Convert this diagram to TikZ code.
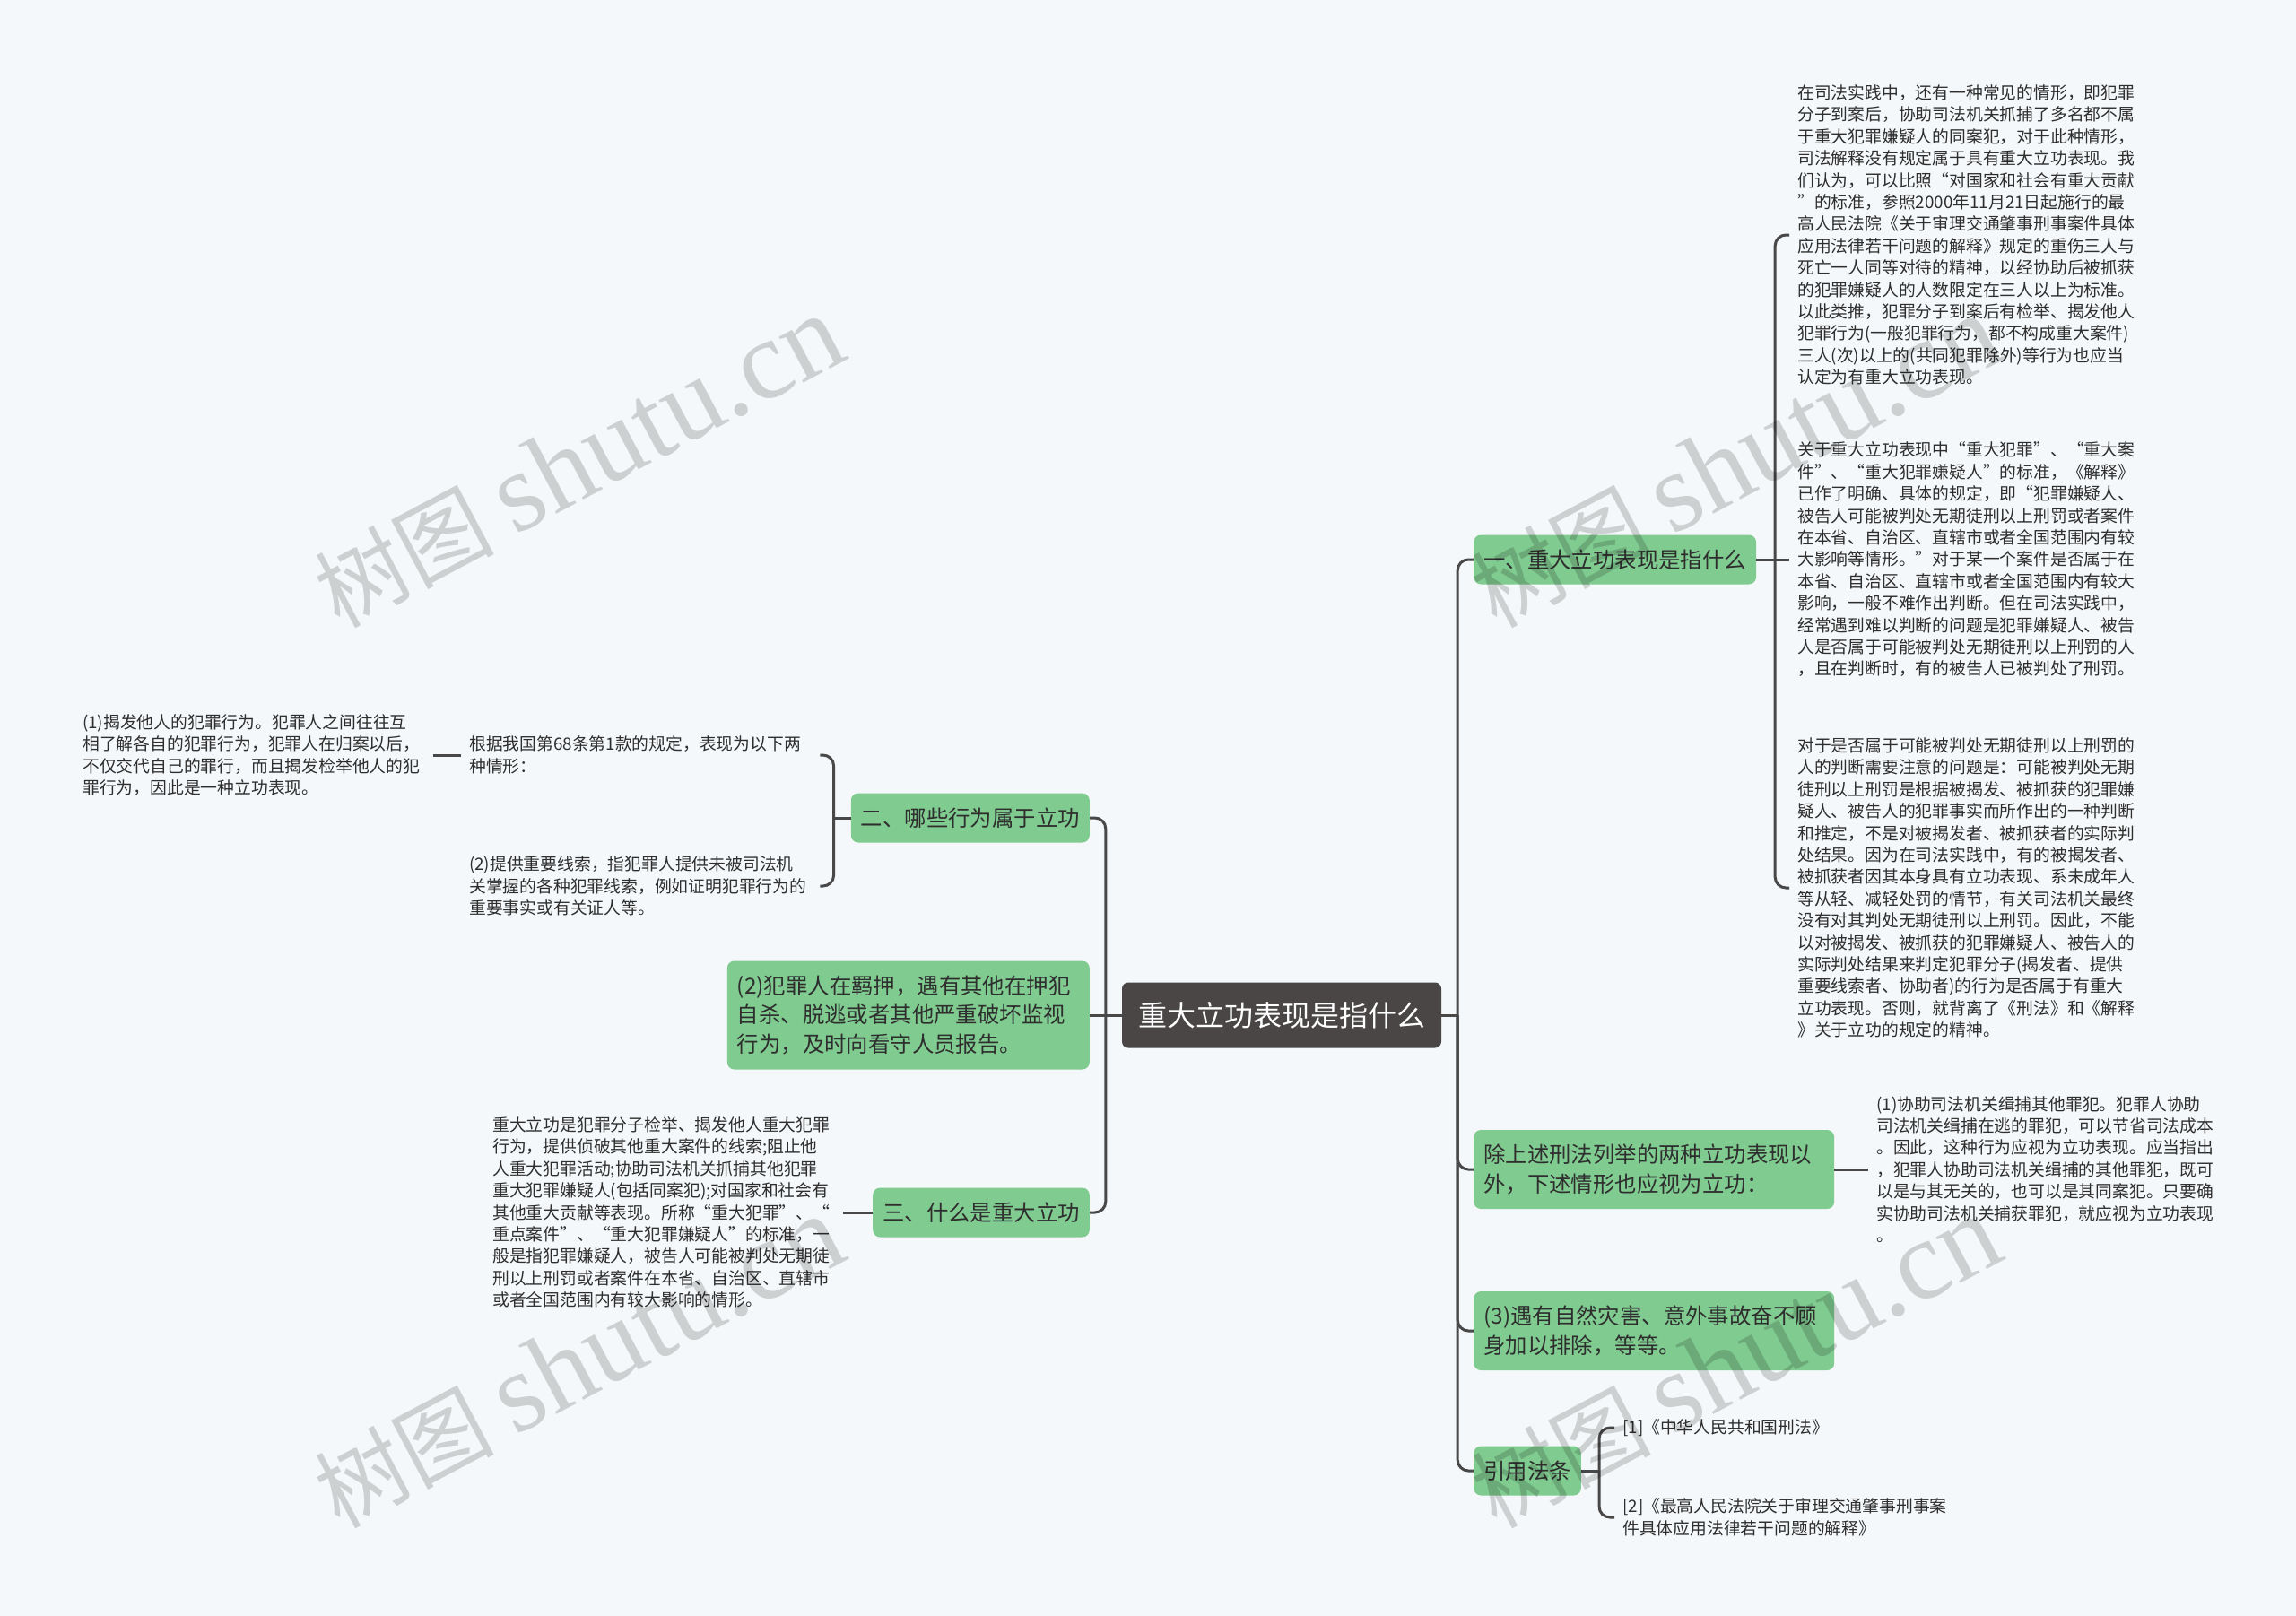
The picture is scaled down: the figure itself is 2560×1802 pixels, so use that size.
\documentclass[tikz,border=0pt]{standalone}
\usepackage{fontspec}
\setmainfont{Noto Sans CJK SC}
\newfontfamily\wmlatin{Liberation Serif}
\definecolor{PageBg}{HTML}{F5F8FA}
\definecolor{RootGray}{HTML}{4A4646}
\definecolor{TopicGreen}{HTML}{80CB90}
\definecolor{LinkGray}{HTML}{484848}
\definecolor{InkGray}{HTML}{2E2E2E}

\begin{document}
\begin{tikzpicture}[x=1pt,y=-1pt,
  link/.style={draw=LinkGray,line width=3pt,rounded corners=12pt},
  root/.style={fill=RootGray,text=white,rounded corners=7pt,font=\fontsize{32}{38}\selectfont,
    minimum width=356pt,minimum height=73pt,inner sep=0pt},
  topic/.style={fill=TopicGreen,text=InkGray,rounded corners=8pt,font=\fontsize{24.4}{32.4}\selectfont,
    align=left,inner xsep=11pt,inner ysep=0pt,minimum height=55pt},
  leaf/.style={text=InkGray,font=\fontsize{18.8}{24.4}\selectfont,align=left,text width=382pt,
    inner xsep=9pt,inner ysep=3pt},
  wmark/.style={text=black,opacity=.16,rotate=28,font=\fontsize{100}{100}\selectfont}]
  \useasboundingbox (0,0) rectangle (2560,1802);
  \fill[PageBg] (0,0) rectangle (2560,1802);

  \node[root] (root) at (1429,1132) {重大立功表现是指什么};

  % right side
  \node[topic,anchor=west] (one) at (1643,624) {一、重大立功表现是指什么};
  \node[topic,anchor=west,text width=380pt,minimum height=88pt] (other) at (1643,1304)
    {除上述刑法列举的两种立功表现以\\外，下述情形也应视为立功：};
  \node[topic,anchor=west,text width=380pt,minimum height=88pt] (natural) at (1643,1484)
    {(3)遇有自然灾害、意外事故奋不顾\\身加以排除，等等。};
  \node[topic,anchor=west] (cite) at (1643,1640) {引用法条};

  \node[leaf,anchor=west] (p1) at (1995,262) {在司法实践中，还有一种常见的情形，即犯罪\\
分子到案后，协助司法机关抓捕了多名都不属\\
于重大犯罪嫌疑人的同案犯，对于此种情形，\\
司法解释没有规定属于具有重大立功表现。我\\
们认为，可以比照“对国家和社会有重大贡献\\
”的标准，参照2000年11月21日起施行的最\\
高人民法院《关于审理交通肇事刑事案件具体\\
应用法律若干问题的解释》规定的重伤三人与\\
死亡一人同等对待的精神，以经协助后被抓获\\
的犯罪嫌疑人的人数限定在三人以上为标准。\\
以此类推，犯罪分子到案后有检举、揭发他人\\
犯罪行为(一般犯罪行为，都不构成重大案件)\\
三人(次)以上的(共同犯罪除外)等行为也应当\\
认定为有重大立功表现。};
  \node[leaf,anchor=west] (p2) at (1995,624) {关于重大立功表现中“重大犯罪”、“重大案\\
件”、“重大犯罪嫌疑人”的标准，《解释》\\
已作了明确、具体的规定，即“犯罪嫌疑人、\\
被告人可能被判处无期徒刑以上刑罚或者案件\\
在本省、自治区、直辖市或者全国范围内有较\\
大影响等情形。”对于某一个案件是否属于在\\
本省、自治区、直辖市或者全国范围内有较大\\
影响，一般不难作出判断。但在司法实践中，\\
经常遇到难以判断的问题是犯罪嫌疑人、被告\\
人是否属于可能被判处无期徒刑以上刑罚的人\\
，且在判断时，有的被告人已被判处了刑罚。};
  \node[leaf,anchor=west] (p3) at (1995,990) {对于是否属于可能被判处无期徒刑以上刑罚的\\
人的判断需要注意的问题是：可能被判处无期\\
徒刑以上刑罚是根据被揭发、被抓获的犯罪嫌\\
疑人、被告人的犯罪事实而所作出的一种判断\\
和推定，不是对被揭发者、被抓获者的实际判\\
处结果。因为在司法实践中，有的被揭发者、\\
被抓获者因其本身具有立功表现、系未成年人\\
等从轻、减轻处罚的情节，有关司法机关最终\\
没有对其判处无期徒刑以上刑罚。因此，不能\\
以对被揭发、被抓获的犯罪嫌疑人、被告人的\\
实际判处结果来判定犯罪分子(揭发者、提供\\
重要线索者、协助者)的行为是否属于有重大\\
立功表现。否则，就背离了《刑法》和《解释\\
》关于立功的规定的精神。};
  \node[leaf,anchor=west] (assist) at (2083,1304) {(1)协助司法机关缉捕其他罪犯。犯罪人协助\\
司法机关缉捕在逃的罪犯，可以节省司法成本\\
。因此，这种行为应视为立功表现。应当指出\\
，犯罪人协助司法机关缉捕的其他罪犯，既可\\
以是与其无关的，也可以是其同案犯。只要确\\
实协助司法机关捕获罪犯，就应视为立功表现\\
。};
  \node[leaf,anchor=west] (law1) at (1800,1592) {[1]《中华人民共和国刑法》};
  \node[leaf,anchor=west] (law2) at (1800,1692) {[2]《最高人民法院关于审理交通肇事刑事案\\
件具体应用法律若干问题的解释》};

  % left side
  \node[topic,anchor=east] (two) at (1215,912) {二、哪些行为属于立功};
  \node[topic,anchor=east,text width=382pt,minimum height=121pt] (detain) at (1215,1132)
    {(2)犯罪人在羁押，遇有其他在押犯\\自杀、脱逃或者其他严重破坏监视\\行为，及时向看守人员报告。};
  \node[topic,anchor=east] (three) at (1215,1352) {三、什么是重大立功};

  \node[leaf,anchor=west] (basis) at (514,842) {根据我国第68条第1款的规定，表现为以下两\\
种情形：};
  \node[leaf,anchor=west] (clue) at (514,988) {(2)提供重要线索，指犯罪人提供未被司法机\\
关掌握的各种犯罪线索，例如证明犯罪行为的\\
重要事实或有关证人等。};
  \node[leaf,anchor=west] (reveal) at (83,842) {(1)揭发他人的犯罪行为。犯罪人之间往往互\\
相了解各自的犯罪行为，犯罪人在归案以后，\\
不仅交代自己的罪行，而且揭发检举他人的犯\\
罪行为，因此是一种立功表现。};
  \node[leaf,anchor=west] (define) at (540,1352) {重大立功是犯罪分子检举、揭发他人重大犯罪\\
行为，提供侦破其他重大案件的线索;阻止他\\
人重大犯罪活动;协助司法机关抓捕其他犯罪\\
重大犯罪嫌疑人(包括同案犯);对国家和社会有\\
其他重大贡献等表现。所称“重大犯罪”、“\\
重点案件”、“重大犯罪嫌疑人”的标准，一\\
般是指犯罪嫌疑人，被告人可能被判处无期徒\\
刑以上刑罚或者案件在本省、自治区、直辖市\\
或者全国范围内有较大影响的情形。};

  % connectors
  \draw[link] (root.east) -- ++(18,0) coordinate (rj);
  \foreach \kid in {one,other,natural,cite} \draw[link] (rj) |- (\kid.west);
  \draw[link] (root.west) -- ++(-18,0) coordinate (lj);
  \foreach \kid in {two,three} \draw[link] (lj) |- (\kid.east);
  \draw[link] (lj) -- (detain.east);
  \draw[link] (one.east) -- ++(21,0) coordinate (oj);
  \foreach \kid in {p1,p3} \draw[link] (oj) |- (\kid.west);
  \draw[link] (oj) -- (p2.west);
  \draw[link] (other.east) -- (assist.west);
  \draw[link] (cite.east) -- ++(20,0) coordinate (cj);
  \foreach \kid in {law1,law2} \draw[link] (cj) |- (\kid.west);
  \draw[link] (two.west) -- ++(-19,0) coordinate (tj);
  \foreach \kid in {basis,clue} \draw[link] (tj) |- (\kid.east);
  \draw[link] (basis.west) -- (reveal.east);
  \draw[link] (three.west) -- (define.east);

  % watermark
  \foreach \wx/\wy in {645/515,1935/515,645/1519,1935/1519}
    \node[wmark] (wm\wx\wy) at (\wx,\wy) {树图 {\wmlatin\fontsize{126}{126}\selectfont shutu.cn}};
\end{tikzpicture}
\end{document}
